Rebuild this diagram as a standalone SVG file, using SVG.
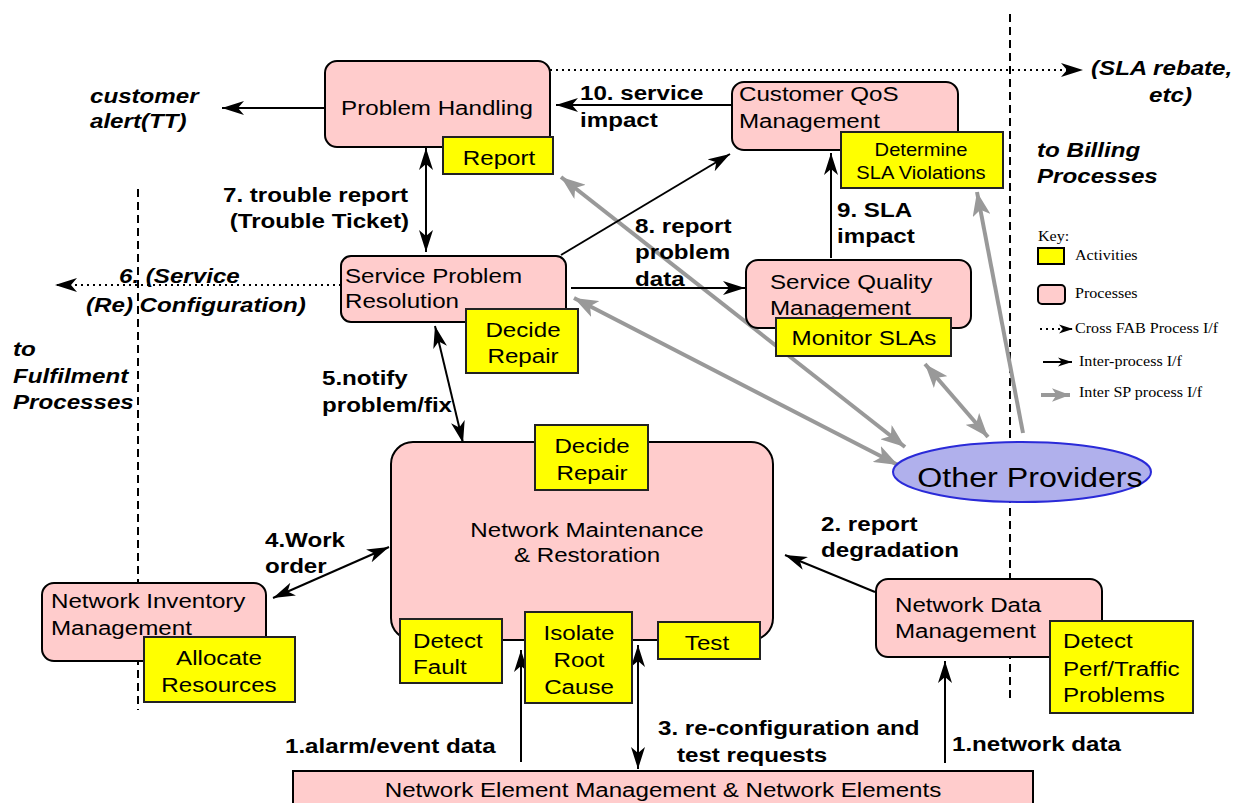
<svg xmlns="http://www.w3.org/2000/svg" width="1243" height="803" viewBox="0 0 1243 803">
<defs>
<style>
.t{font-family:"Liberation Sans",Arial,Helvetica,sans-serif;font-size:21px;fill:#000}
.b{font-weight:bold}
.bi{font-weight:bold;font-style:italic}
.m{text-anchor:middle}
.e{text-anchor:end}
.k{font-family:"Liberation Serif","Times New Roman",serif;font-size:14px;fill:#000}
.proc{fill:#ffcccc;stroke:#000;stroke-width:2}
.act{fill:#ffff00;stroke:#222;stroke-width:2}
.ln{stroke:#000;stroke-width:2;fill:none}
.gr{stroke:#999;stroke-width:4;fill:none}
.dot{stroke:#000;stroke-width:2;stroke-dasharray:2,4;fill:none}
.dash{stroke:#000;stroke-width:2;stroke-dasharray:8,5;fill:none}
</style>
<marker id="ah" viewBox="0 0 22 14" refX="22" refY="7" markerWidth="22" markerHeight="14" markerUnits="userSpaceOnUse" orient="auto-start-reverse"><path d="M0,0 L22,7 L0,14 L6,7 z" fill="#000"/></marker>
<marker id="gh" viewBox="0 0 24 18" refX="24" refY="9" markerWidth="24" markerHeight="18" markerUnits="userSpaceOnUse" orient="auto-start-reverse"><path d="M0,0 L24,9 L0,18 L6,9 z" fill="#999"/></marker>
<marker id="ahs" viewBox="0 0 22 14" refX="22" refY="7" markerWidth="14" markerHeight="10" markerUnits="userSpaceOnUse" orient="auto"><path d="M0,0 L22,7 L0,14 L6,7 z" fill="#000"/></marker>
<marker id="ghs" viewBox="0 0 24 18" refX="24" refY="9" markerWidth="18" markerHeight="14" markerUnits="userSpaceOnUse" orient="auto"><path d="M0,0 L24,9 L0,18 L6,9 z" fill="#999"/></marker>
</defs>
<rect width="1243" height="803" fill="#fff"/>

<g id="boundaries">
<line class="dash" x1="138" y1="189" x2="138" y2="710"/>
<line class="dash" x1="1010" y1="14" x2="1010" y2="702"/>
</g>

<g id="connectors">
<line class="gr" x1="905" y1="447" x2="561" y2="177" marker-start="url(#gh)" marker-end="url(#gh)"/>
<line class="gr" x1="898" y1="465" x2="574" y2="298" marker-start="url(#gh)" marker-end="url(#gh)"/>
<line class="gr" x1="988" y1="437" x2="925" y2="364" marker-start="url(#gh)" marker-end="url(#gh)"/>
<line class="gr" x1="1023" y1="433" x2="977" y2="192" marker-end="url(#gh)"/>
<line class="ln" x1="325" y1="108" x2="222" y2="108" marker-end="url(#ah)"/>
<line class="ln" x1="732" y1="105" x2="556" y2="105" marker-end="url(#ah)"/>
<line class="ln" x1="426" y1="148" x2="426" y2="252" marker-start="url(#ah)" marker-end="url(#ah)"/>
<line class="ln" x1="561" y1="255" x2="730" y2="154" marker-end="url(#ah)"/>
<line class="ln" x1="571" y1="288" x2="745" y2="288" marker-end="url(#ah)"/>
<line class="ln" x1="831" y1="258" x2="831" y2="153" marker-end="url(#ah)"/>
<line class="dot" x1="341" y1="285" x2="55" y2="285" marker-end="url(#ah)"/>
<line class="dot" x1="550" y1="70" x2="1083" y2="70" marker-end="url(#ah)"/>
<line class="ln" x1="435" y1="326" x2="463" y2="443" marker-start="url(#ah)" marker-end="url(#ah)"/>
<line class="ln" x1="273" y1="598" x2="389" y2="547" marker-start="url(#ah)" marker-end="url(#ah)"/>
<line class="ln" x1="875" y1="592" x2="785" y2="555" marker-end="url(#ah)"/>
<line class="ln" x1="521" y1="762" x2="521" y2="650" marker-end="url(#ah)"/>
<line class="ln" x1="638" y1="645" x2="638" y2="769" marker-start="url(#ah)" marker-end="url(#ah)"/>
<line class="ln" x1="945" y1="763" x2="945" y2="661" marker-end="url(#ah)"/>
</g>

<g id="problem-handling">
<rect class="proc" x="325" y="61" width="225" height="86" rx="12"/>
<text class="t m" transform="translate(437,115) scale(1.15,1)">Problem Handling</text>
<rect class="act" x="443" y="137" width="110" height="37"/>
<text class="t m" transform="translate(499,165) scale(1.15,1)">Report</text>
</g>

<g id="customer-qos">
<rect class="proc" x="732" y="82" width="226" height="68" rx="12"/>
<text class="t" transform="translate(739,101) scale(1.15,1)">Customer QoS</text>
<text class="t" transform="translate(739,128) scale(1.15,1)">Management</text>
<rect class="act" x="841" y="132" width="162" height="56"/>
<text class="t m" style="font-size:17.5px" transform="translate(921,156) scale(1.15,1)">Determine</text>
<text class="t m" style="font-size:17.5px" transform="translate(921,179) scale(1.15,1)">SLA Violations</text>
</g>

<g id="service-problem-resolution">
<rect class="proc" x="341" y="256" width="225" height="66" rx="10"/>
<text class="t" transform="translate(345,283) scale(1.15,1)">Service Problem</text>
<text class="t" transform="translate(345,308) scale(1.15,1)">Resolution</text>
<rect class="act" x="466" y="309" width="112" height="64"/>
<text class="t m" transform="translate(523,337) scale(1.15,1)">Decide</text>
<text class="t m" transform="translate(523,363) scale(1.15,1)">Repair</text>
</g>

<g id="service-quality">
<rect class="proc" x="746" y="260" width="225" height="68" rx="12"/>
<text class="t" transform="translate(770,289) scale(1.15,1)">Service Quality</text>
<text class="t" transform="translate(770,315) scale(1.15,1)">Management</text>
<rect class="act" x="776" y="318" width="175" height="38"/>
<text class="t m" transform="translate(864,345) scale(1.15,1)">Monitor SLAs</text>
</g>

<g id="network-maintenance">
<rect class="proc" x="391" y="442" width="382" height="198" rx="22"/>
<text class="t m" transform="translate(587,537) scale(1.15,1)">Network Maintenance</text>
<text class="t m" transform="translate(587,562) scale(1.15,1)">&amp; Restoration</text>
<rect class="act" x="535" y="425" width="113" height="65"/>
<text class="t m" transform="translate(592,453) scale(1.15,1)">Decide</text>
<text class="t m" transform="translate(592,480) scale(1.15,1)">Repair</text>
<rect class="act" x="400" y="619" width="102" height="64"/>
<text class="t" transform="translate(413,648) scale(1.15,1)">Detect</text>
<text class="t" transform="translate(413,674) scale(1.15,1)">Fault</text>
<rect class="act" x="525" y="612" width="107" height="91"/>
<text class="t m" transform="translate(579,640) scale(1.15,1)">Isolate</text>
<text class="t m" transform="translate(579,667) scale(1.15,1)">Root</text>
<text class="t m" transform="translate(579,694) scale(1.15,1)">Cause</text>
<rect class="act" x="658" y="622" width="102" height="37"/>
<text class="t m" transform="translate(707,650) scale(1.15,1)">Test</text>
</g>

<g id="network-inventory">
<rect class="proc" x="42" y="583" width="224" height="78" rx="12"/>
<text class="t" transform="translate(51,608) scale(1.15,1)">Network Inventory</text>
<text class="t" transform="translate(51,635) scale(1.15,1)">Management</text>
<rect class="act" x="144" y="637" width="151" height="65"/>
<text class="t m" transform="translate(219,665) scale(1.15,1)">Allocate</text>
<text class="t m" transform="translate(219,692) scale(1.15,1)">Resources</text>
</g>

<g id="network-data">
<rect class="proc" x="876" y="579" width="226" height="78" rx="12"/>
<text class="t" transform="translate(895,612) scale(1.15,1)">Network Data</text>
<text class="t" transform="translate(895,638) scale(1.15,1)">Management</text>
<rect class="act" x="1050" y="621" width="143" height="92"/>
<text class="t" transform="translate(1063,648) scale(1.15,1)">Detect</text>
<text class="t" transform="translate(1063,676) scale(1.15,1)">Perf/Traffic</text>
<text class="t" transform="translate(1063,702) scale(1.15,1)">Problems</text>
</g>

<g id="other-providers">
<ellipse cx="1022" cy="472" rx="129" ry="30" fill="#b0b0ec" stroke="#2a2ad8" stroke-width="2"/>
<text class="t m" style="font-size:28px" transform="translate(1030,487) scale(1.15,1)">Other Providers</text>
</g>

<g id="network-elements">
<rect class="proc" x="293" y="771" width="740" height="42"/>
<text class="t m" transform="translate(663,797) scale(1.15,1)">Network Element Management &amp; Network Elements</text>
</g>

<g id="labels">
<text class="t bi" transform="translate(90,103) scale(1.15,1)">customer</text>
<text class="t bi" transform="translate(90,128) scale(1.15,1)">alert(TT)</text>
<text class="t b" transform="translate(580,100) scale(1.15,1)">10. service</text>
<text class="t b" transform="translate(580,127) scale(1.15,1)">impact</text>
<text class="t bi" transform="translate(1091,75) scale(1.15,1)">(SLA rebate,</text>
<text class="t bi e" transform="translate(1192,102) scale(1.15,1)">etc)</text>
<text class="t bi" transform="translate(1037,157) scale(1.15,1)">to Billing</text>
<text class="t bi" transform="translate(1037,183) scale(1.15,1)">Processes</text>
<text class="t b e" transform="translate(408,202) scale(1.15,1)">7. trouble report</text>
<text class="t b e" transform="translate(409,228) scale(1.15,1)">(Trouble Ticket)</text>
<text class="t b" transform="translate(635,233) scale(1.15,1)">8. report</text>
<text class="t b" transform="translate(635,259) scale(1.15,1)">problem</text>
<text class="t b" transform="translate(635,286) scale(1.15,1)">data</text>
<text class="t b" transform="translate(837,217) scale(1.15,1)">9. SLA</text>
<text class="t b" transform="translate(837,243) scale(1.15,1)">impact</text>
<text class="t bi" transform="translate(119,283) scale(1.15,1)">6. (Service</text>
<text class="t bi" transform="translate(86,312) scale(1.15,1)">(Re) Configuration)</text>
<text class="t bi" transform="translate(13,356) scale(1.15,1)">to</text>
<text class="t bi" transform="translate(13,383) scale(1.15,1)">Fulfilment</text>
<text class="t bi" transform="translate(13,409) scale(1.15,1)">Processes</text>
<text class="t b" transform="translate(322,385) scale(1.15,1)">5.notify</text>
<text class="t b" transform="translate(322,412) scale(1.15,1)">problem/fix</text>
<text class="t b" transform="translate(265,547) scale(1.15,1)">4.Work</text>
<text class="t b" transform="translate(265,573) scale(1.15,1)">order</text>
<text class="t b" transform="translate(821,531) scale(1.15,1)">2. report</text>
<text class="t b" transform="translate(821,557) scale(1.15,1)">degradation</text>
<text class="t b" transform="translate(285,753) scale(1.15,1)">1.alarm/event data</text>
<text class="t b" transform="translate(658,735) scale(1.15,1)">3. re-configuration and</text>
<text class="t b" transform="translate(677,762) scale(1.15,1)">test requests</text>
<text class="t b" transform="translate(952,751) scale(1.15,1)">1.network data</text>
</g>

<g id="key">
<text class="k" transform="translate(1038,241) scale(1.15,1)">Key:</text>
<rect x="1038" y="248" width="26" height="16" fill="#ffff00" stroke="#000" stroke-width="2"/>
<text class="k" transform="translate(1075,260) scale(1.15,1)">Activities</text>
<rect x="1038" y="285" width="27" height="19" rx="4" fill="#ffcccc" stroke="#000" stroke-width="2"/>
<text class="k" transform="translate(1075,298) scale(1.15,1)">Processes</text>
<line class="dot" x1="1040" y1="329" x2="1073" y2="329" marker-end="url(#ahs)"/>
<text class="k" transform="translate(1075,333) scale(1.15,1)">Cross FAB Process I/f</text>
<line class="ln" x1="1043" y1="362" x2="1072" y2="362" marker-end="url(#ahs)"/>
<text class="k" transform="translate(1079,366) scale(1.15,1)">Inter-process I/f</text>
<line class="gr" x1="1041" y1="395" x2="1070" y2="395" marker-end="url(#ghs)"/>
<text class="k" transform="translate(1079,397) scale(1.15,1)">Inter SP process I/f</text>
</g>
</svg>
